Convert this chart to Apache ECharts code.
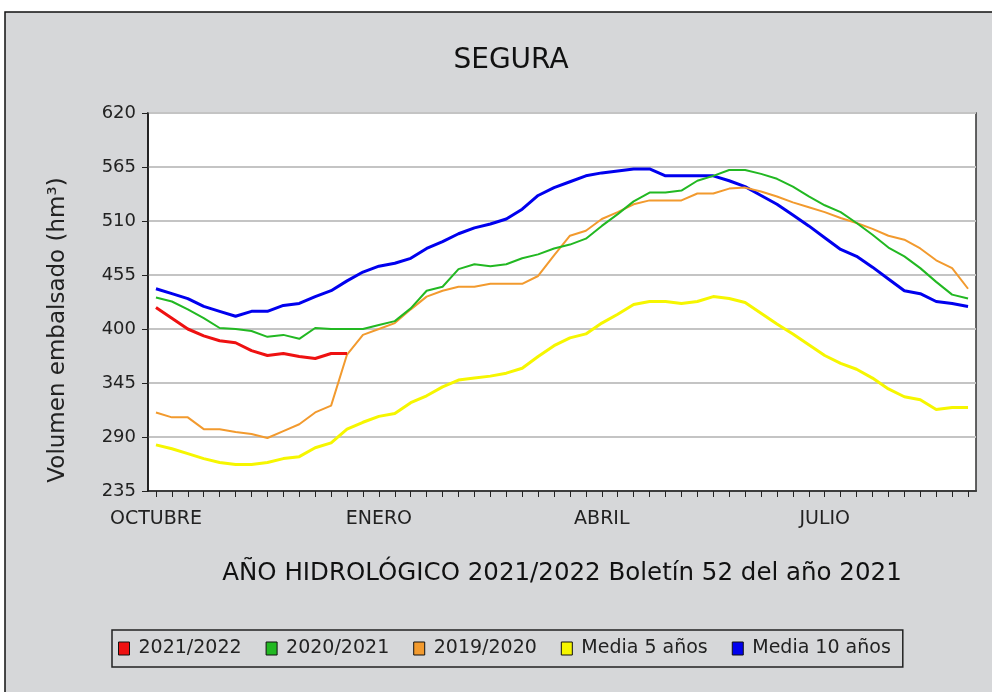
<!DOCTYPE html>
<html>
<head>
<meta charset="utf-8">
<script src="https://cdn.jsdelivr.net/npm/echarts@6/dist/echarts.min.js"></script>
<style>
html,body{margin:0;padding:0;background:#fff;}
#chart{width:992px;height:692px;}
</style>
</head>
<body>
<div id="chart"></div>
<script>
const weeks = Array.from({length: 52}, (_, i) => 'S' + (i + 1));
const monthIndex = [0, 14, 28, 42];
const monthLabels = ['OCTUBRE', 'ENERO', 'ABRIL', 'JULIO'];
const yTicks = {min: 235, max: 620, step: 55};

const s2122 = [422, 411, 400, 393, 388, 386, 378, 373, 375, 372, 370, 375, 375];
const s2021 = [432, 428, 420, 411, 401, 400, 398, 392, 394, 390, 401, 400, 400, 400, 404, 408,
  421, 439, 443, 461, 466, 464, 466, 472, 476, 482, 486, 492, 505, 517, 530, 539, 539, 541,
  551, 556, 562, 562, 558, 553, 545, 535, 526, 519, 508, 496, 483, 474, 462, 448, 435, 431];
const s1920 = [315, 310, 310, 298, 298, 295, 293, 289, 296, 303, 315, 322, 374, 394, 400, 406,
  420, 433, 439, 443, 443, 446, 446, 446, 454, 475, 495, 500, 512, 519, 527, 531, 531, 531,
  538, 538, 543, 544, 540, 535, 529, 524, 519, 513, 508, 502, 495, 491, 482, 470, 462, 441];
const media5 = [282, 278, 273, 268, 264, 262, 262, 264, 268, 270, 279, 284, 298, 305, 311, 314,
  325, 332, 341, 348, 350, 352, 355, 360, 372, 383, 391, 395, 406, 415, 425, 428, 428, 426,
  428, 433, 431, 427, 416, 405, 395, 384, 373, 365, 359, 350, 339, 331, 328, 318, 320, 320];
const media10 = [441, 436, 431, 423, 418, 413, 418, 418, 424, 426, 433, 439, 449, 458, 464, 467,
  472, 482, 489, 497, 503, 507, 512, 522, 536, 544, 550, 556, 559, 561, 563, 563, 556, 556,
  556, 556, 551, 545, 536, 527, 516, 505, 493, 481, 474, 463, 451, 439, 436, 428, 426, 423];

const seriesNames = ['2021/2022', '2020/2021', '2019/2020', 'Media 5 años', 'Media 10 años'];
const seriesColors = ['#ee1111', '#22b822', '#f29a2e', '#f6f600', '#0000ee'];
const seriesWidths = [3, 2, 2, 3, 3];
const seriesData = [s2122, s2021, s1920, media5, media10];

const FONT = '"DejaVu Sans", sans-serif';
const chart = echarts.init(document.getElementById('chart'));
chart.setOption({
  backgroundColor: '#ffffff',
  animation: false,
  graphic: [
    {type: 'rect', z: -10, silent: true,
     shape: {x: 5, y: 12, width: 1000, height: 700},
     style: {fill: '#d6d7d9', stroke: '#111', lineWidth: 1.5}},
    {type: 'text', z: 10, x: 58, y: 330, rotation: Math.PI / 2,
     style: {text: 'Volumen embalsado (hm³)', font: '23px ' + FONT, fill: '#222',
             textAlign: 'center', textVerticalAlign: 'middle'}}
  ],
  title: {
    text: 'SEGURA', left: 506, top: 42, textAlign: 'center',
    textStyle: {fontFamily: FONT, fontSize: 28, fontWeight: 'normal', color: '#111'}
  },
  grid: {left: 148, right: 16, top: 113, bottom: 201, show: true,
         backgroundColor: '#ffffff', borderColor: '#333', borderWidth: 1.5},
  legend: {
    left: 112, top: 630, icon: 'rect', itemWidth: 11, itemHeight: 13, itemGap: 24,
    padding: [9, 12, 9, 6], borderColor: '#222', borderWidth: 1.5,
    backgroundColor: '#d6d7d9',
    textStyle: {fontFamily: FONT, fontSize: 19, color: '#222', padding: [0, 0, 0, 4]},
    data: seriesNames.map((n, i) => ({name: n, itemStyle: {color: seriesColors[i], borderColor: '#111', borderWidth: 1}}))
  },
  xAxis: {
    type: 'category', data: weeks, boundaryGap: true,
    name: 'AÑO HIDROLÓGICO 2021/2022 Boletín 52 del año 2021',
    nameLocation: 'middle', nameGap: 70,
    nameTextStyle: {fontFamily: FONT, fontSize: 24.5, color: '#111'},
    axisLine: {lineStyle: {color: '#111', width: 1.5}},
    axisTick: {show: true, alignWithLabel: true, interval: 0, length: 6, lineStyle: {color: '#222'}},
    axisLabel: {
      interval: (idx) => monthIndex.includes(idx),
      formatter: (v, idx) => { const k = monthIndex.indexOf(idx); return k >= 0 ? monthLabels[k] : ''; },
      fontFamily: FONT, fontSize: 19, color: '#222', margin: 19
    },
    splitLine: {show: false}
  },
  yAxis: {
    type: 'value', min: yTicks.min, max: yTicks.max, interval: yTicks.step,
    axisLine: {show: true, lineStyle: {color: '#111', width: 1.5}},
    axisTick: {show: true, length: 6, lineStyle: {color: '#222'}},
    axisLabel: {fontFamily: FONT, fontSize: 18, color: '#222', margin: 12},
    splitLine: {show: true, lineStyle: {color: '#c4c4c4', width: 2}}
  },
  series: seriesNames.map((n, i) => ({
    name: n, type: 'line', data: seriesData[i], showSymbol: false, symbol: 'none',
    lineStyle: {color: seriesColors[i], width: seriesWidths[i]},
    itemStyle: {color: seriesColors[i]},
    z: 10 - i
  }))
});
</script>
</body>
</html>
